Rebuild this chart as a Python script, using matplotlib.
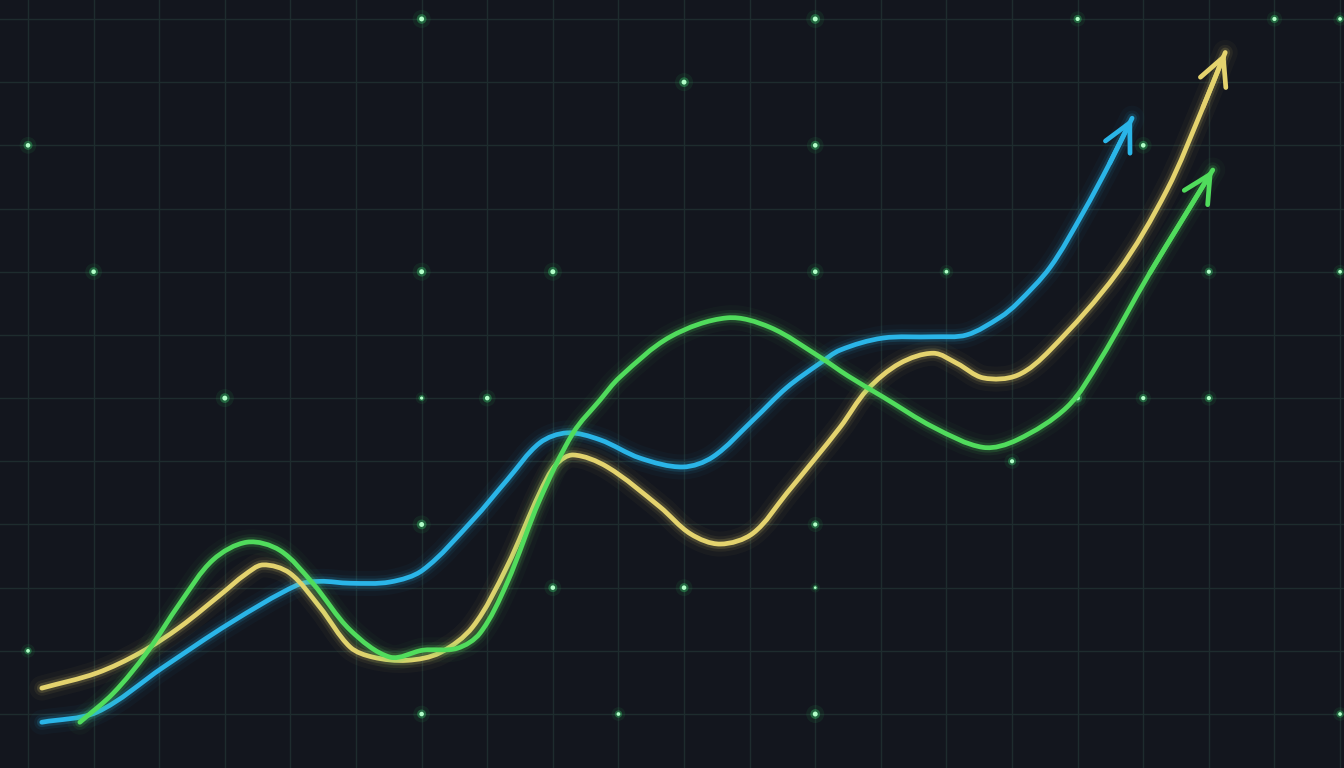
import numpy as np
import matplotlib
matplotlib.use("Agg")
import matplotlib.pyplot as plt
from matplotlib.path import Path
from matplotlib.patches import PathPatch

# three trend lines, in grid units (x = column, y = row from bottom)
blue_x = [0.21, 1.05, 2.06, 3.08, 4.10, 4.45, 4.91, 5.52, 6.02, 6.78, 7.30, 7.80, 8.22, 8.72,
          9.33, 9.98, 10.44, 11.05, 11.57, 12.07, 12.38, 13.03, 13.80, 14.31, 14.82, 15.08,
          15.58, 16.08, 16.49, 16.83]
blue_y = [-0.13, 0.03, 0.74, 1.44, 2.04, 2.10, 2.07, 2.09, 2.28, 3.07, 3.70, 4.29, 4.45, 4.34,
          4.05, 3.91, 4.07, 4.65, 5.17, 5.55, 5.76, 5.95, 5.97, 6.00, 6.28, 6.50,
          7.07, 7.93, 8.72, 9.43]

yellow_x = [0.21, 1.05, 1.71, 2.32, 2.97, 3.30, 3.58, 3.99, 4.45, 4.91, 5.26, 5.78, 6.28, 6.78,
            7.30, 7.80, 8.05, 8.31, 8.83, 9.63, 10.10, 10.55, 11.05, 11.57, 12.38, 12.79,
            13.29, 13.80, 14.16, 14.56, 15.08, 15.58, 16.60, 17.36, 17.91, 18.25]
yellow_y = [0.41, 0.65, 0.97, 1.38, 1.92, 2.20, 2.36, 2.23, 1.69, 1.06, 0.90, 0.85, 0.97, 1.38,
            2.33, 3.50, 3.95, 4.10, 3.91, 3.28, 2.85, 2.69, 2.86, 3.50, 4.54, 5.13,
            5.55, 5.71, 5.55, 5.32, 5.36, 5.76, 6.98, 8.29, 9.60, 10.47]

green_x = [0.79, 1.30, 1.81, 2.32, 2.82, 3.34, 3.84, 4.34, 4.91, 5.52, 6.02, 6.54, 6.89, 7.30,
           7.80, 8.31, 8.72, 9.02, 9.79, 10.66, 11.31, 12.07, 12.50, 13.03, 13.80, 14.56,
           15.08, 15.84, 16.34, 17.10, 18.06]
green_y = [-0.13, 0.33, 0.97, 1.76, 2.44, 2.72, 2.59, 2.07, 1.33, 0.90, 1.01, 1.04, 1.28, 2.07,
           3.39, 4.45, 4.97, 5.33, 5.97, 6.27, 6.12, 5.65, 5.35, 5.02, 4.54, 4.22,
           4.34, 4.86, 5.60, 6.98, 8.61]

# highlighted grid intersections (column, row)
dot_cols = [6, 12, 16, 19, 20, 10, 0, 12, 17, 1, 6, 8, 12, 14, 18, 20,
            3, 6, 7, 16, 17, 18, 15, 6, 12, 8, 10, 12, 0, 6, 9, 12, 20]
dot_rows = [11, 11, 11, 11, 11, 10, 9, 9, 9, 7, 7, 7, 7, 7, 7, 7,
            5, 5, 5, 5, 5, 5, 4, 3, 3, 2, 2, 2, 1, 0, 0, 0, 0]
dot_size = [14, 14, 10, 10, 8, 14, 12, 12, 12, 12, 14, 14, 12, 8, 10, 8,
            14, 6, 12, 12, 10, 10, 10, 14, 10, 12, 12, 4, 8, 12, 8, 14, 8]

BG = "#13161e"
GRID = "#1e2c2e"
BLUE = "#2ab5e8"
YELLOW = "#e4d36e"
GREEN = "#50dc5c"

fig = plt.figure(figsize=(13.44, 7.68), dpi=100, facecolor=BG)
ax = fig.add_axes([0, 0, 1, 1])
ax.set_facecolor(BG)
ax.set_xlim(-0.427, 20.06)
ax.set_ylim(-0.854, 11.30)
ax.axis("off")

for gx in range(0, 21):
    ax.axvline(gx, color=GRID, lw=1.0, zorder=1)
for gy in range(0, 12):
    ax.axhline(gy, color=GRID, lw=1.0, zorder=1)

# glowing dots
sz = np.array(dot_size)
ax.scatter(dot_cols, dot_rows, s=sz * 12, color="#2fe06a", alpha=0.08, lw=0, zorder=2)
ax.scatter(dot_cols, dot_rows, s=sz * 3.5, color="#3df07a", alpha=0.3, lw=0, zorder=2)
ax.scatter(dot_cols, dot_rows, s=sz * 0.9, color="#b0ffc8", alpha=1.0, lw=0, zorder=3)


def smooth_path(xs, ys):
    # cubic Bezier through every read point, tangents weighted by chord length
    p = np.column_stack([xs, ys])
    n = len(p)
    d = np.linalg.norm(np.diff(p, axis=0), axis=1)
    m = np.zeros_like(p)
    m[0] = (p[1] - p[0]) / d[0]
    m[-1] = (p[-1] - p[-2]) / d[-1]
    for i in range(1, n - 1):
        m[i] = (p[i + 1] - p[i - 1]) / (d[i - 1] + d[i])
    verts = [p[0]]
    codes = [Path.MOVETO]
    for i in range(n - 1):
        verts += [p[i] + m[i] * d[i] / 3.0, p[i + 1] - m[i + 1] * d[i] / 3.0, p[i + 1]]
        codes += [Path.CURVE4] * 3
    return Path(verts, codes)


def glow_line(xs, ys, color, z):
    path = smooth_path(xs, ys)
    for w, a in [(18, 0.035), (11, 0.07), (7, 0.16)]:
        ax.add_patch(PathPatch(path, fc="none", ec=color, lw=w, alpha=a,
                               capstyle="round", joinstyle="round", zorder=z))
    ax.add_patch(PathPatch(path, fc="none", ec=color, lw=3.4,
                           capstyle="round", joinstyle="round", zorder=z + 1))
    ax.annotate("", xy=(xs[-1], ys[-1]), xytext=(xs[-2], ys[-2]),
                arrowprops=dict(arrowstyle="->,head_length=0.75,head_width=0.38",
                                color=color, lw=3.4, shrinkA=0, shrinkB=0,
                                mutation_scale=26, capstyle="round", joinstyle="round"),
                zorder=z + 1)


glow_line(blue_x, blue_y, BLUE, 4)
glow_line(yellow_x, yellow_y, YELLOW, 6)
glow_line(green_x, green_y, GREEN, 8)

fig.savefig("out.png", dpi=100, facecolor=BG)
